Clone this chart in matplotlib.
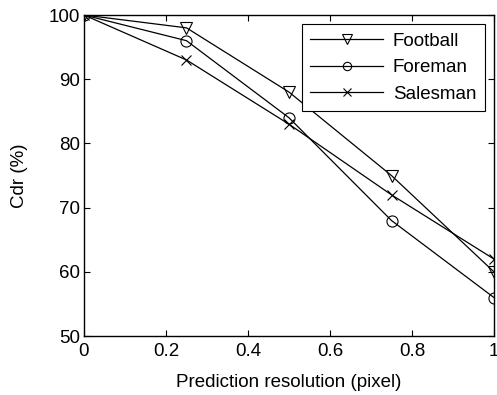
import matplotlib
matplotlib.use("Agg")
import matplotlib.pyplot as plt

x = [0, 0.25, 0.5, 0.75, 1.0]
football = [100, 98, 88, 75, 60]
foreman = [100, 96, 84, 68, 56]
salesman = [100, 93, 83, 72, 62]
xticks = [0, 0.2, 0.4, 0.6, 0.8, 1]
xticklabels = ["0", "0.2", "0.4", "0.6", "0.8", "1"]
yticks = [50, 60, 70, 80, 90, 100]

plt.rcParams['font.family'] = ['Liberation Sans', 'DejaVu Sans']

fig = plt.figure(figsize=(4.97, 3.95), dpi=100)
ax = fig.add_axes([0.169, 0.149, 0.825, 0.813])

ax.plot(x, football, color='black', lw=0.9, marker='v', ms=9, mfc='none', mec='black', mew=0.8, label='Football')
ax.plot(x, foreman, color='black', lw=0.9, marker='o', ms=8, mfc='none', mec='black', mew=0.8, label='Foreman')
ax.plot(x, salesman, color='black', lw=0.9, marker='x', ms=7, mfc='none', mec='black', mew=0.8, label='Salesman')

ax.set_xlim(0, 1)
ax.set_ylim(50, 100)
ax.set_xticks(xticks)
ax.set_xticklabels(xticklabels)
ax.set_yticks(yticks)
ax.tick_params(direction='in', top=True, right=True, labelsize=13.5, length=4, width=0.8)
ax.tick_params(axis='x', pad=5)
ax.tick_params(axis='y', pad=3)
for s in ax.spines.values():
    s.set_linewidth(1.0)
ax.set_xlabel('Prediction resolution (pixel)', fontsize=13.5, labelpad=10)
ax.set_ylabel('Cdr (%)', fontsize=13.5, labelpad=15)

leg = ax.legend(loc='upper right', fontsize=13.5, frameon=True, fancybox=False, edgecolor='black',
                framealpha=1, handlelength=3.9, borderpad=0.45, labelspacing=0.5, handletextpad=0.5,
                borderaxespad=0.5, markerscale=0.75)
leg.get_frame().set_linewidth(0.8)

fig.savefig('out.png', dpi=100)
